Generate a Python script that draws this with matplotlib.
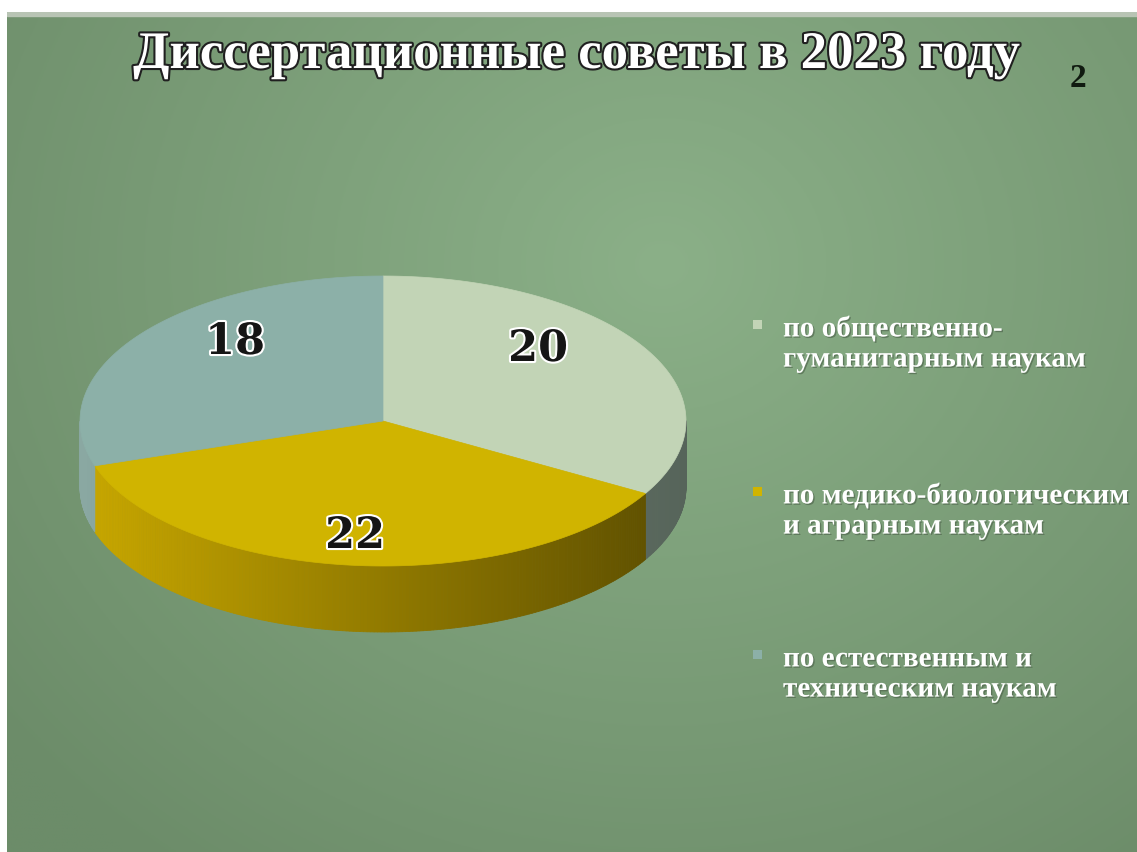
import numpy as np
import matplotlib.pyplot as plt
import matplotlib.patheffects as pe
from matplotlib.patches import Polygon, Rectangle
from matplotlib.colors import to_rgb

title = "Диссертационные советы в 2023 году"
page_no = "2"
categories = [
    "по общественно-\nгуманитарным наукам",
    "по медико-биологическим\nи аграрным наукам",
    "по естественным и\nтехническим наукам",
]
values = [20, 22, 18]
top_colors = ["#c2d4b6", "#d0b400", "#8cb0a8"]
side_dark = ["#56645a", "#5a4c00", "#5f7a78"]
side_light = ["#8a9a86", "#c9a800", "#8aa8a2"]

W, H = 1137, 853
fig = plt.figure(figsize=(W / 100, H / 100), dpi=100)
fig.patch.set_facecolor("white")

# slide background: soft radial green gradient
bg = fig.add_axes([7 / W, 0, 1 - 7 / W, 1 - 13 / H])
bg.set_axis_off()
yy, xx = np.mgrid[0:1:300j, 0:1:400j]
r = np.sqrt(((xx - 0.58) / 0.75) ** 2 + ((yy - 0.3) / 0.9) ** 2)
c_in = np.array(to_rgb("#8bb088"))
c_out = np.array(to_rgb("#6c8c69"))
t = np.clip(r, 0, 1)[..., None]
img = c_in * (1 - t) + c_out * t
bg.imshow(img, extent=[0, 1, 1, 0], aspect="auto")
bg.set_xlim(0, 1)
bg.set_ylim(1, 0)
bg.add_patch(Rectangle((0, 0.995), 1, 0.005, color="#b8c4b4", transform=bg.transAxes, zorder=3))

# pie axes in pixel coordinates (y down)
ax = fig.add_axes([0, 0, 1, 1])
ax.set_xlim(0, W)
ax.set_ylim(H, 0)
ax.set_axis_off()

cx, cy, rx, ry, depth = 383, 422, 303, 145, 66
total = sum(values)
bounds = np.concatenate([[0], np.cumsum(values)]) / total
# angles go clockwise from the top (90 deg)
angles = [90 - 360 * b for b in bounds]


def ell(a_deg, dy=0):
    a = np.radians(a_deg)
    return cx + rx * np.cos(a), cy - ry * np.sin(a) + dy


# side wall: visible where the arc faces front (180..360 deg)
for i in range(len(values)):
    a0, a1 = angles[i], angles[i + 1]
    seg = np.linspace(a0, a1, 200)
    for j in range(len(seg) - 1):
        s0, s1 = seg[j], seg[j + 1]
        mid = np.radians((s0 + s1) / 2)
        if np.sin(mid) > 0:
            continue
        x0, y0 = ell(s0)
        x1, y1 = ell(s1)
        frac = (np.cos(mid) + 1) / 2
        c = np.array(to_rgb(side_light[i])) * (1 - frac) + np.array(to_rgb(side_dark[i])) * frac
        ax.add_patch(Polygon([(x0, y0), (x1, y1), (x1, y1 + depth), (x0, y0 + depth)],
                             closed=True, facecolor=c, edgecolor=c, lw=0.6, zorder=2))

# top face
for i in range(len(values)):
    seg = np.linspace(angles[i], angles[i + 1], 200)
    pts = [(cx, cy)] + [ell(s) for s in seg]
    ax.add_patch(Polygon(pts, closed=True, facecolor=top_colors[i], edgecolor=top_colors[i],
                         lw=0.5, zorder=3))

# value labels
label_pos = [(538, 350), (355, 537), (235, 343)]
for (lx, ly), v in zip(label_pos, values):
    ax.text(lx, ly, str(v), ha="center", va="center", fontsize=31, fontweight="bold",
            family="DejaVu Serif", color="#151515", zorder=5,
            path_effects=[pe.withStroke(linewidth=3, foreground="white")])

# title
ax.text(576, 56, title, ha="center", va="center", fontsize=38, fontweight="bold",
        family="Liberation Serif", color="white", zorder=5,
        path_effects=[pe.withStroke(linewidth=3, foreground="#202020")])
ax.text(1078, 78, page_no, ha="center", va="center", fontsize=24, fontweight="bold",
        family="Liberation Serif", color="#101a10", zorder=5)

# legend
leg_y = [345, 512, 675]
for c, name, ly in zip(top_colors, categories, leg_y):
    ax.add_patch(Rectangle((753, ly - 24), 9, 9, facecolor=c, edgecolor="none", zorder=5))
    ax.text(783, ly, name, ha="left", va="center", fontsize=21, fontweight="bold",
            family="Liberation Serif", color="white", linespacing=1.15, zorder=5,
            path_effects=[pe.withSimplePatchShadow(offset=(1, -1), shadow_rgbFace="#4a5e48", alpha=0.6)])

fig.savefig("out.png", dpi=100)
